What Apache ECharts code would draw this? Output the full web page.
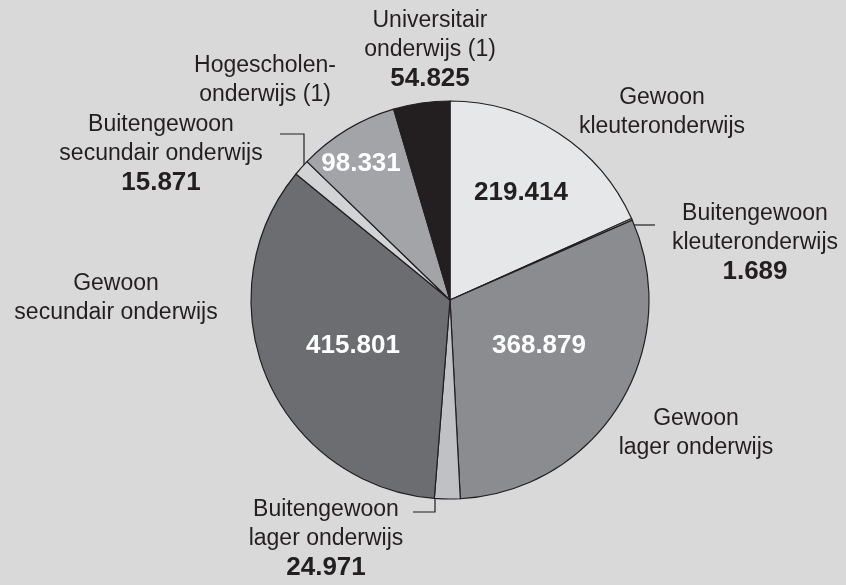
<!DOCTYPE html>
<html lang="nl">
<head>
    <meta charset="UTF-8">
    <title>Leerlingen per onderwijsniveau</title>
    <script src="https://cdn.jsdelivr.net/npm/echarts@6/dist/echarts.min.js"></script>
    <style>
        html, body {margin: 0; padding: 0; background: #d9d9d9;}
        #main {width: 846px; height: 585px;}
    </style>
</head>
<body>
<div id="main"></div>
<script>
    // data, clockwise from the top
    var names = [
        'Gewoon\nkleuteronderwijs',
        'Buitengewoon\nkleuteronderwijs',
        'Gewoon\nlager onderwijs',
        'Buitengewoon\nlager onderwijs',
        'Gewoon\nsecundair onderwijs',
        'Buitengewoon\nsecundair onderwijs',
        'Hogescholen-\nonderwijs (1)',
        'Universitair\nonderwijs (1)'
    ];
    var values = [219414, 1689, 368879, 24971, 415801, 15871, 98331, 54825];
    var valueLabels = ['219.414', '1.689', '368.879', '24.971', '415.801', '15.871', '98.331', '54.825'];
    // where the value is printed: inside the slice or under the name
    var valueInside = [true, false, true, false, true, false, true, false];
    var colors = ['#e6e7e8', '#e6e7e8', '#8b8c90', '#c0c1c4', '#6c6d71', '#d2d3d5', '#a3a4a8', '#231f20'];

    // label placement (layout only)
    var namePos = [[662, 112], [755, 243], [696, 433], [326, 539], [116, 298], [161, 154], [265, 80], [430, 50]];
    var valuePos = [[521, 193], null, [539, 346], null, [353, 346], null, [361, 164], null];
    var valueColor = ['#231f20', null, '#fff', null, '#fff', null, '#fff', null];
    var leaders = {
        1: [[633, 225], [655, 225]],
        3: [[435, 488], [435, 512], [413, 512]],
        5: [[304, 166], [304, 134], [280, 134]]
    };

    var font = '"Liberation Sans", Arial, Helvetica, sans-serif';

    var sliceData = values.map(function (v, i) {
        return {
            value: v,
            name: names[i],
            itemStyle: {color: colors[i]},
            label: valueInside[i] ? {show: true, color: valueColor[i]} : {show: false}
        };
    });
    var nameData = values.map(function (v, i) {
        return {
            value: v,
            name: names[i],
            label: {
                formatter: valueInside[i] ? '{n|' + names[i].replace('\n', '}\n{n|') + '}'
                    : '{n|' + names[i].replace('\n', '}\n{n|') + '}\n{b|' + valueLabels[i] + '}'
            },
            labelLine: {show: !!leaders[i]}
        };
    });

    var myChart = echarts.init(document.getElementById('main'));
    var option = {
        backgroundColor: '#d9d9d9',
        animation: false,
        series: [{
            type: 'pie',
            center: [450, 300],
            radius: 199,
            startAngle: 90,
            clockwise: true,
            silent: true,
            itemStyle: {borderColor: '#231f20', borderWidth: 1.2},
            label: {
                position: 'inside',
                formatter: function (p) { return valueLabels[p.dataIndex]; },
                fontFamily: font,
                fontWeight: 'bold',
                fontSize: 26,
                overflow: 'none'
            },
            labelLine: {show: false},
            labelLayout: function (p) {
                var pos = valuePos[p.dataIndex];
                if (!pos) return {};
                return {x: pos[0], y: pos[1], align: 'center', verticalAlign: 'middle'};
            },
            data: sliceData
        }, {
            type: 'pie',
            center: [450, 300],
            radius: 199,
            startAngle: 90,
            clockwise: true,
            silent: true,
            itemStyle: {color: 'rgba(0,0,0,0)', borderWidth: 0},
            label: {
                show: true,
                position: 'outside',
                align: 'center',
                overflow: 'none',
                edgeDistance: 0,
                color: '#231f20',
                rich: {
                    n: {fontFamily: font, fontSize: 23, lineHeight: 29, color: '#231f20', align: 'center'},
                    b: {fontFamily: font, fontSize: 26, fontWeight: 'bold', lineHeight: 30, color: '#231f20', align: 'center'}
                }
            },
            labelLine: {lineStyle: {color: '#231f20', width: 1.2}},
            labelLayout: function (p) {
                var i = p.dataIndex;
                var res = {x: namePos[i][0], y: namePos[i][1], align: 'center', verticalAlign: 'middle'};
                if (leaders[i]) res.labelLinePoints = leaders[i];
                return res;
            },
            data: nameData
        }]
    };
    myChart.setOption(option);
</script>
</body>
</html>
